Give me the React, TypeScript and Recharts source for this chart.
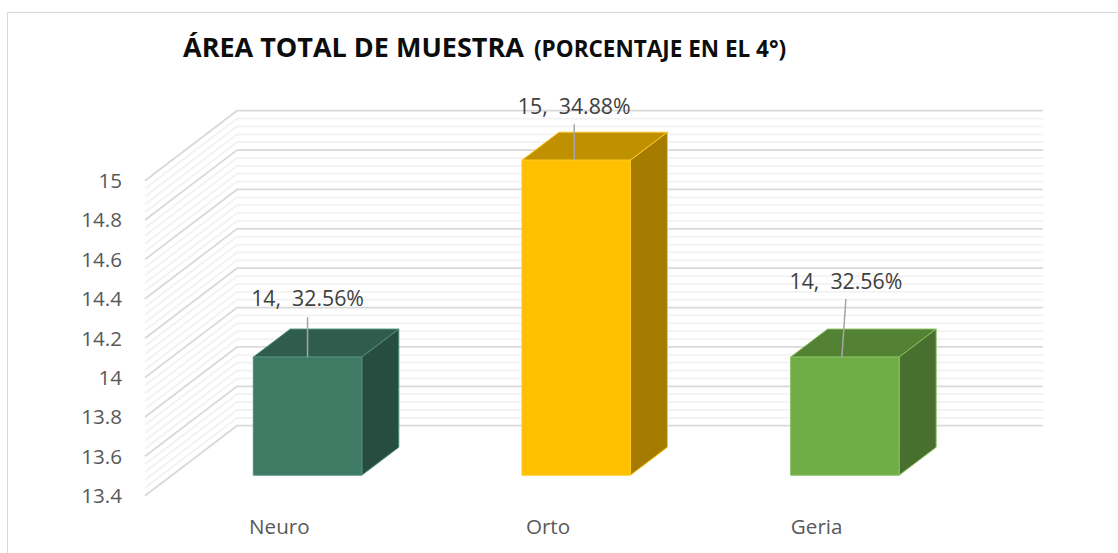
import React from "react";
import { BarChart, Bar, CartesianGrid, Cell, LabelList, XAxis, YAxis } from "recharts";

const categories = ["Neuro", "Orto", "Geria"];
const values = [14, 15, 14];
const percents = ["32.56%", "34.88%", "32.56%"];
const yTicks = [13.4, 13.6, 13.8, 14, 14.2, 14.4, 14.6, 14.8, 15];
const minorTicks = [
  13.44, 13.48, 13.52, 13.56, 13.64, 13.68, 13.72, 13.76, 13.84, 13.88, 13.92, 13.96,
  14.04, 14.08, 14.12, 14.16, 14.24, 14.28, 14.32, 14.36, 14.44, 14.48, 14.52, 14.56,
  14.64, 14.68, 14.72, 14.76, 14.84, 14.88, 14.92, 14.96,
];

const faceColors = ["#3F7A65", "#FFC000", "#70AD47"];
const topColors = ["#2F5C4C", "#BF9000", "#548235"];
const sideColors = ["#274D40", "#A67C00", "#496F2E"];
const edgeColors = ["#4F9079", "#FFC91F", "#85BF5E"];

const data = categories.map((name, i) => ({ name, value: values[i], percent: percents[i] }));

// 3d look: wall depth and how far into the floor the bars sit
const WALL_DX = 92;
const WALL_DY = -70;
const BAR_DX = 28.3;
const BAR_DY = -20.5;
const CUBE_DX = 37;
const CUBE_DY = -28;

// label position relative to the bar top centre, and where its leader line ends
const labelOffsets = [
  { x: 0, y: -60, lineX: 0, lineY: -40, baseX: 0 },
  { x: -2, y: -55, lineX: -2, lineY: -36, baseX: -2 },
  { x: 1, y: -77, lineX: 1, lineY: -58, baseX: -3 },
];

const wallLine = (color: string, width: number) => (props: any) => {
  const { x1, x2, y1 } = props;
  const backY = y1 + WALL_DY;
  return (
    <path
      key={`${color}-${y1}`}
      d={`M${x1},${y1}L${x1 + WALL_DX},${backY}L${x2 + WALL_DX},${backY}`}
      fill="none"
      stroke={color}
      strokeWidth={width}
    />
  );
};

const Cube = (props: any) => {
  const { x, y, width, height, index } = props;
  const left = x + BAR_DX;
  const top = y + BAR_DY;
  const right = left + width;
  const bottom = top + height;
  const edge = edgeColors[index];
  return (
    <g stroke={edge} strokeWidth={1} strokeLinejoin="round">
      <polygon
        points={`${left},${top} ${left + CUBE_DX},${top + CUBE_DY} ${right + CUBE_DX},${top + CUBE_DY} ${right},${top}`}
        fill={topColors[index]}
      />
      <polygon
        points={`${right},${top} ${right + CUBE_DX},${top + CUBE_DY} ${right + CUBE_DX},${bottom + CUBE_DY} ${right},${bottom}`}
        fill={sideColors[index]}
      />
      <rect x={left} y={top} width={width} height={height} fill={faceColors[index]} />
    </g>
  );
};

const CubeLabel = (props: any) => {
  const { x, y, width, value, index } = props;
  const center = x + BAR_DX + width / 2;
  const top = y + BAR_DY;
  const o = labelOffsets[index];
  return (
    <g>
      <line
        x1={center + o.baseX}
        y1={top}
        x2={center + o.lineX}
        y2={top + o.lineY}
        stroke="#A6A6A6"
        strokeWidth={1.5}
      />
      <text
        x={center + o.x}
        y={top + o.y}
        textAnchor="middle"
        dominantBaseline="central"
        fontSize={21.3}
        fill="#404040"
        xmlSpace="preserve"
      >
        {`${value},  ${percents[index]}`}
      </text>
    </g>
  );
};

export default function App() {
  return (
    <div
      style={{
        position: "absolute",
        left: 0,
        top: 0,
        width: 1118,
        height: 553,
        background: "#fff",
        fontFamily: "'Open Sans', sans-serif",
      }}
    >
      <div
        style={{
          position: "absolute",
          left: 7,
          top: 12,
          width: 1111,
          height: 541,
          borderTop: "1.5px solid #D9D9D9",
          borderLeft: "1.5px solid #D9D9D9",
          boxSizing: "border-box",
        }}
      />
      <BarChart
        width={1118}
        height={553}
        data={data}
        margin={{ top: 180.7, right: 167, bottom: 17.3, left: 85 }}
        style={{ position: "absolute", left: 0, top: 0 }}
      >
        <CartesianGrid
          vertical={false}
          syncWithTicks={false}
          horizontalValues={minorTicks}
          horizontal={wallLine("#F2F2F2", 1.8)}
        />
        <CartesianGrid
          vertical={false}
          syncWithTicks={false}
          horizontalValues={yTicks}
          horizontal={wallLine("#D9D9D9", 1.8)}
        />
        <XAxis
          dataKey="name"
          height={40}
          axisLine={false}
          tickLine={false}
          tickSize={0}
          tickMargin={24}
          tick={{ fontSize: 20.6, fill: "#595959" }}
        />
        <YAxis
          width={60}
          domain={[13.4, 15]}
          ticks={yTicks}
          interval={0}
          axisLine={false}
          tickLine={false}
          tickSize={0}
          tickMargin={23}
          tick={{ fontSize: 20.6, fill: "#595959" }}
        />
        <Bar dataKey="value" barSize={108.5} shape={<Cube />} isAnimationActive={false}>
          {data.map((d, i) => (
            <Cell key={d.name} fill={faceColors[i]} />
          ))}
          <LabelList dataKey="value" content={<CubeLabel />} />
        </Bar>
        <text x={183} y={57} fontSize={27} fontWeight={700} fill="#0D0D0D">
          ÁREA TOTAL DE MUESTRA{" "}
          <tspan dx={3} fontSize={22.5}>(PORCENTAJE EN EL 4°)</tspan>
        </text>
      </BarChart>
    </div>
  );
}
